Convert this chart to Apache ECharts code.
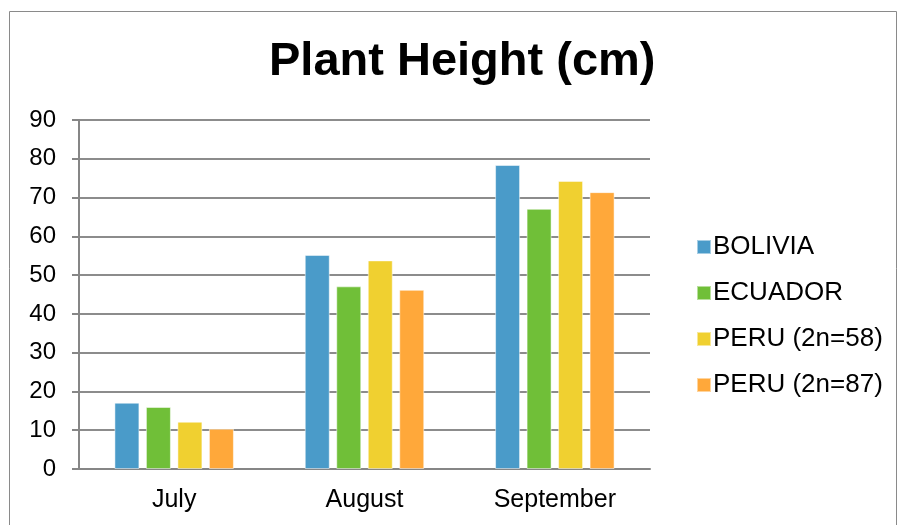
<!DOCTYPE html>
<html>
<head>
<meta charset="utf-8">
<script src="https://cdn.jsdelivr.net/npm/echarts@6/dist/echarts.min.js"></script>
<style>
  html, body { margin: 0; padding: 0; background: #fff; }
  #chart { width: 899px; height: 525px; }
</style>
</head>
<body>
<div id="chart"></div>
<script>
// data
const months = ['July', 'August', 'September'];
const seriesNames = ['BOLIVIA', 'ECUADOR', 'PERU (2n=58)', 'PERU (2n=87)'];
const bolivia = [17.1, 55.2, 78.4];
const ecuador = [16.0, 47.1, 67.1];
const peru58 = [12.2, 53.8, 74.3];
const peru87 = [10.4, 46.2, 71.4];
const colors = ['#4A9BC9', '#70BF38', '#F0D030', '#FFA83A'];

const values = [bolivia, ecuador, peru58, peru87];
const font = 'Liberation Sans, Arial, sans-serif';

let myChart = echarts.init(document.getElementById('chart'));
let option = {
  animation: false,
  color: colors,
  textStyle: { fontFamily: font, color: '#000' },
  graphic: [{
    type: 'rect',
    shape: { x: 9.5, y: 11.5, width: 887, height: 530 },
    style: { fill: 'none', stroke: '#8a8a8a', lineWidth: 1 }
  }],
  title: {
    text: 'Plant Height (cm)',
    left: 264,
    top: 34,
    textStyle: { fontFamily: font, fontSize: 47, fontWeight: 'bold', color: '#000' }
  },
  legend: {
    orient: 'vertical',
    left: 691,
    top: 229,
    itemWidth: 14,
    itemHeight: 14,
    itemGap: 20,
    icon: 'rect',
    textStyle: { fontFamily: font, fontSize: 26, color: '#000', padding: [0, 0, 0, -3] },
    data: seriesNames
  },
  grid: { left: 79, right: 249, top: 120, bottom: 56 },
  xAxis: {
    type: 'category',
    data: months,
    axisLine: { lineStyle: { color: '#868686', width: 2 } },
    axisTick: { length: 8, lineStyle: { color: '#868686', width: 2 } },
    axisLabel: { fontFamily: font, fontSize: 25, color: '#000', margin: 19 }
  },
  yAxis: {
    type: 'value',
    min: 0,
    max: 90,
    interval: 10,
    axisLine: { show: true, lineStyle: { color: '#868686', width: 2 } },
    axisTick: { show: true, length: 7, lineStyle: { color: '#868686', width: 2 } },
    axisLabel: { fontFamily: font, fontSize: 24, color: '#000', margin: 23 },
    splitLine: { lineStyle: { color: '#8c8c8c', width: 2 } }
  },
  series: seriesNames.map((name, i) => ({
    name: name,
    type: 'bar',
    data: values[i],
    barWidth: 25,
    barGap: '26%',
    itemStyle: { color: colors[i], borderColor: 'rgba(255,255,255,0.5)', borderWidth: 1 }
  }))
};
myChart.setOption(option);
</script>
</body>
</html>
